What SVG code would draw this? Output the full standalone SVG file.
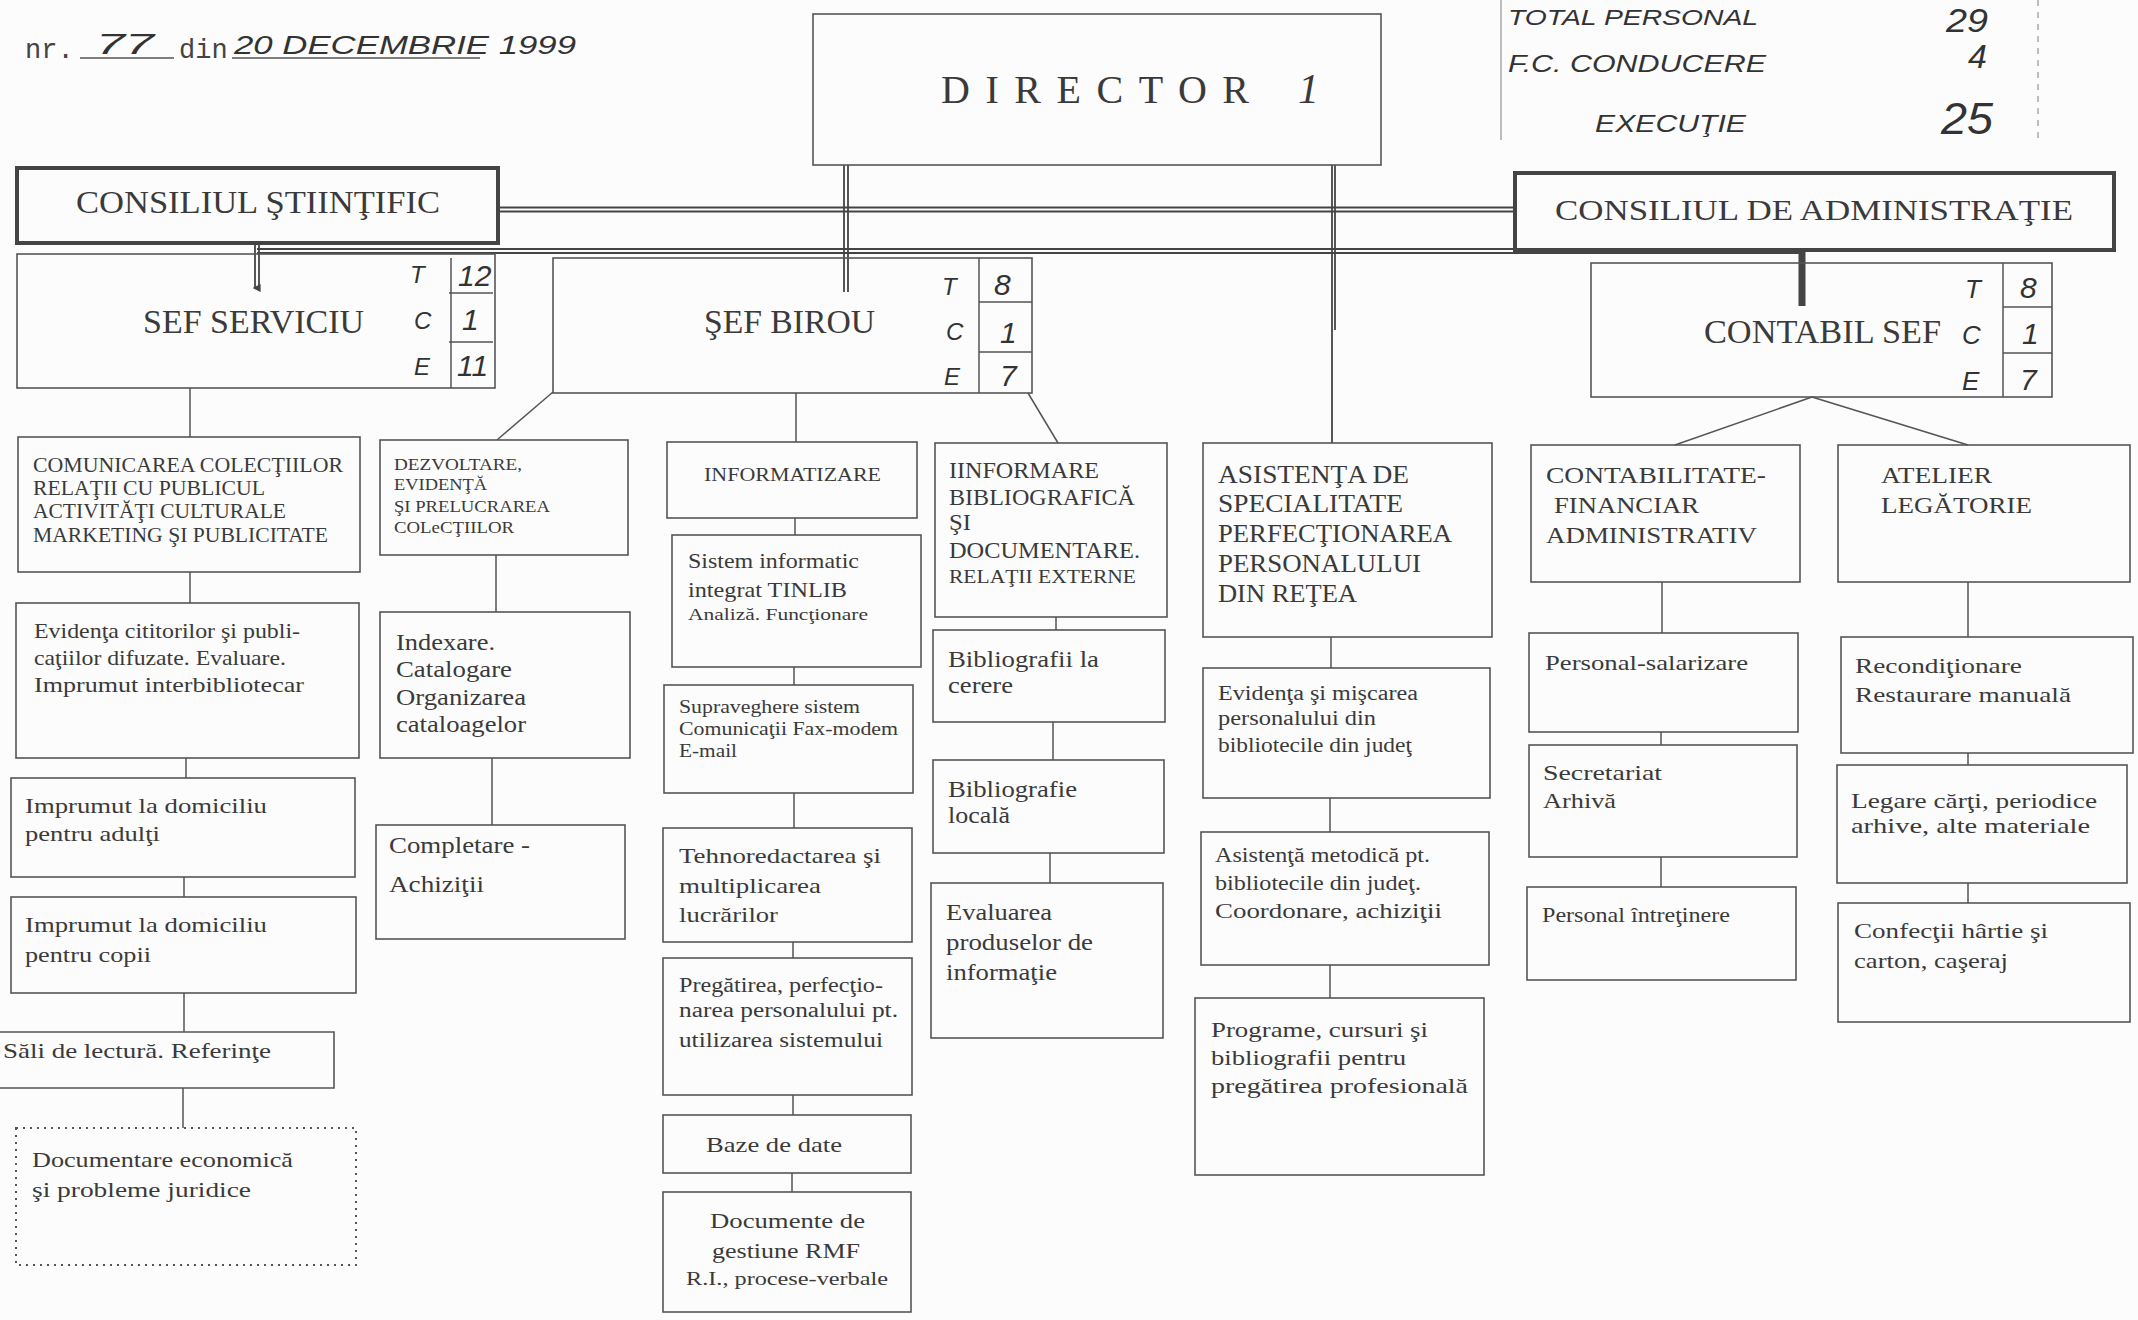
<svg xmlns="http://www.w3.org/2000/svg" width="2138" height="1320" viewBox="0 0 2138 1320">
<defs>
<style>
.bg{fill:#fcfcfc}
.box{fill:none;stroke:#555;stroke-width:1.6}
.bold{fill:none;stroke:#444;stroke-width:4}
.dot{fill:none;stroke:#555;stroke-width:2;stroke-dasharray:2 5}
.ln{stroke:#555;stroke-width:1.5;fill:none}
.dbl{stroke:#444;stroke-width:1.8;fill:none}
.t{font-family:"Liberation Serif","Times New Roman",serif;fill:#3a3a3a}
.m{font-family:"Liberation Mono","Courier New",monospace;fill:#444}
.hw{font-family:"Liberation Sans",Arial,sans-serif;font-style:italic;fill:#333}
</style>
<marker id="tip" viewBox="0 0 10 10" refX="5" refY="2" markerWidth="8" markerHeight="8" orient="auto-start-reverse" markerUnits="userSpaceOnUse">
<path d="M0,0 L10,0 L5,10 z" fill="#444"/>
</marker>
</defs>
<rect class="bg" x="0" y="0" width="2138" height="1320"/>

<g id="header">
<text class="m" x="25" y="58" font-size="27">nr.</text>
<text class="hw" x="96" y="54" font-size="30" textLength="58" lengthAdjust="spacingAndGlyphs">77</text>
<line class="ln" x1="80" y1="58" x2="174" y2="58"/>
<text class="m" x="179" y="58" font-size="27">din</text>
<text class="hw" x="234" y="54" font-size="26" textLength="342" lengthAdjust="spacingAndGlyphs">20 DECEMBRIE 1999</text>
<line class="ln" x1="232" y1="58" x2="480" y2="58"/>
</g>

<g id="totals">
<line class="ln" x1="1501" y1="0" x2="1501" y2="140" stroke-opacity="0.5"/>
<line class="ln" x1="2038" y1="0" x2="2038" y2="140" stroke-dasharray="6 6" stroke-opacity="0.5"/>
<text class="hw" x="1508" y="25" font-size="22" textLength="250" lengthAdjust="spacingAndGlyphs">TOTAL PERSONAL</text>
<text class="hw" x="1946" y="32" font-size="34" textLength="42" lengthAdjust="spacingAndGlyphs">29</text>
<text class="hw" x="1508" y="72" font-size="24" textLength="258" lengthAdjust="spacingAndGlyphs">F.C. CONDUCERE</text>
<text class="hw" x="1968" y="68" font-size="34">4</text>
<text class="hw" x="1595" y="132" font-size="24" textLength="151" lengthAdjust="spacingAndGlyphs">EXECUŢIE</text>
<text class="hw" x="1941" y="134" font-size="44" textLength="52" lengthAdjust="spacingAndGlyphs">25</text>
</g>

<g id="connectors">
<line class="dbl" x1="498" y1="207.5" x2="1515" y2="207.5"/>
<line class="dbl" x1="498" y1="211.5" x2="1515" y2="211.5"/>
<line class="dbl" x1="257" y1="249" x2="1800" y2="249"/>
<line class="dbl" x1="257" y1="253" x2="1800" y2="253"/>
<line class="dbl" x1="255" y1="243" x2="255" y2="288"/>
<line class="dbl" x1="259" y1="243" x2="259" y2="288" marker-end="url(#tip)"/>
<line class="dbl" x1="844" y1="165" x2="844" y2="292"/>
<line class="dbl" x1="848" y1="165" x2="848" y2="292"/>
<line x1="1802" y1="251" x2="1802" y2="306" stroke="#444" stroke-width="7"/>
<line class="dbl" x1="1332" y1="165" x2="1332" y2="443"/>
<line class="dbl" x1="1335" y1="165" x2="1335" y2="330"/>
<line class="ln" x1="190" y1="388" x2="190" y2="437"/>
<line class="ln" x1="553" y1="392" x2="497" y2="440"/>
<line class="ln" x1="796" y1="393" x2="796" y2="442"/>
<line class="ln" x1="1028" y1="393" x2="1058" y2="443"/>
<line class="ln" x1="1812" y1="397" x2="1675" y2="445"/>
<line class="ln" x1="1812" y1="397" x2="1968" y2="445"/>
<line class="ln" x1="190" y1="572" x2="190" y2="603"/>
<line class="ln" x1="186" y1="758" x2="186" y2="778"/>
<line class="ln" x1="184" y1="877" x2="184" y2="897"/>
<line class="ln" x1="184" y1="993" x2="184" y2="1032"/>
<line class="ln" x1="183" y1="1088" x2="183" y2="1128"/>
<line class="ln" x1="496" y1="555" x2="496" y2="612"/>
<line class="ln" x1="492" y1="758" x2="492" y2="825"/>
<line class="ln" x1="795" y1="518" x2="795" y2="535"/>
<line class="ln" x1="794" y1="667" x2="794" y2="685"/>
<line class="ln" x1="794" y1="793" x2="794" y2="828"/>
<line class="ln" x1="793" y1="942" x2="793" y2="958"/>
<line class="ln" x1="793" y1="1095" x2="793" y2="1115"/>
<line class="ln" x1="792" y1="1173" x2="792" y2="1192"/>
<line class="ln" x1="1056" y1="617" x2="1056" y2="630"/>
<line class="ln" x1="1053" y1="722" x2="1053" y2="760"/>
<line class="ln" x1="1050" y1="853" x2="1050" y2="883"/>
<line class="ln" x1="1331" y1="637" x2="1331" y2="668"/>
<line class="ln" x1="1330" y1="798" x2="1330" y2="832"/>
<line class="ln" x1="1330" y1="965" x2="1330" y2="998"/>
<line class="ln" x1="1662" y1="582" x2="1662" y2="633"/>
<line class="ln" x1="1661" y1="732" x2="1661" y2="745"/>
<line class="ln" x1="1661" y1="857" x2="1661" y2="887"/>
<line class="ln" x1="1968" y1="582" x2="1968" y2="637"/>
<line class="ln" x1="1968" y1="753" x2="1968" y2="765"/>
<line class="ln" x1="1968" y1="883" x2="1968" y2="903"/>
</g>

<g id="director">
<rect class="box" x="813" y="14" width="568" height="151" stroke-width="2.2"/>
<text class="t" x="941" y="103" font-size="40" textLength="308">DIRECTOR</text>
<text class="t" x="1298" y="103" font-size="42" font-style="italic">1</text>
</g>

<g id="consiliul-stiintific">
<rect class="bold" x="17" y="168" width="481" height="75"/>
<text class="t" x="76" y="213" font-size="32" textLength="364" lengthAdjust="spacingAndGlyphs">CONSILIUL ŞTIINŢIFIC</text>
</g>

<g id="consiliul-administratie">
<rect class="bold" x="1515" y="173" width="599" height="77"/>
<text class="t" x="1555" y="220" font-size="30" textLength="518" lengthAdjust="spacingAndGlyphs">CONSILIUL  DE ADMINISTRAŢIE</text>
</g>

<g id="sef-serviciu">
<rect class="box" x="17" y="254" width="478" height="134"/>
<line class="ln" x1="451" y1="258" x2="451" y2="388"/>
<line class="ln" x1="449" y1="293" x2="493" y2="293"/>
<line class="ln" x1="449" y1="342" x2="493" y2="342"/>
<text class="t" x="143" y="333" font-size="33" textLength="221" lengthAdjust="spacingAndGlyphs">SEF SERVICIU</text>
<text class="hw" x="410" y="283" font-size="24">T</text>
<text class="hw" x="414" y="329" font-size="24">C</text>
<text class="hw" x="414" y="375" font-size="24">E</text>
<text class="hw" x="458" y="286" font-size="30">12</text>
<text class="hw" x="462" y="330" font-size="30">1</text>
<text class="hw" x="457" y="376" font-size="30">11</text>
</g>

<g id="sef-birou">
<rect class="box" x="553" y="258" width="479" height="135"/>
<line class="ln" x1="979" y1="258" x2="979" y2="393"/>
<line class="ln" x1="979" y1="302" x2="1032" y2="302"/>
<line class="ln" x1="979" y1="352" x2="1032" y2="352"/>
<text class="t" x="704" y="333" font-size="33" textLength="171" lengthAdjust="spacingAndGlyphs">ŞEF BIROU</text>
<text class="hw" x="942" y="295" font-size="24">T</text>
<text class="hw" x="946" y="340" font-size="24">C</text>
<text class="hw" x="944" y="385" font-size="24">E</text>
<text class="hw" x="994" y="295" font-size="30">8</text>
<text class="hw" x="1000" y="343" font-size="30">1</text>
<text class="hw" x="1000" y="386" font-size="30">7</text>
</g>

<g id="contabil-sef">
<rect class="box" x="1591" y="263" width="461" height="134"/>
<line class="ln" x1="2003" y1="263" x2="2003" y2="397"/>
<line class="ln" x1="2003" y1="307" x2="2052" y2="307"/>
<line class="ln" x1="2003" y1="353" x2="2052" y2="353"/>
<text class="t" x="1704" y="343" font-size="33" textLength="237" lengthAdjust="spacingAndGlyphs">CONTABIL SEF</text>
<text class="hw" x="1965" y="298" font-size="26">T</text>
<text class="hw" x="1962" y="344" font-size="26">C</text>
<text class="hw" x="1962" y="390" font-size="26">E</text>
<text class="hw" x="2020" y="298" font-size="30">8</text>
<text class="hw" x="2022" y="344" font-size="30">1</text>
<text class="hw" x="2020" y="390" font-size="30">7</text>
</g>

<g id="comunicarea">
<rect class="box" x="18" y="437" width="342" height="135"/>
<text class="t" font-size="20" x="33" y="472" textLength="310" lengthAdjust="spacingAndGlyphs">COMUNICAREA  COLECŢIILOR</text>
<text class="t" font-size="20" x="33" y="495" textLength="232" lengthAdjust="spacingAndGlyphs">RELAŢII CU  PUBLICUL</text>
<text class="t" font-size="20" x="33" y="518" textLength="253" lengthAdjust="spacingAndGlyphs">ACTIVITĂŢI CULTURALE</text>
<text class="t" font-size="20" x="33" y="542" textLength="295" lengthAdjust="spacingAndGlyphs">MARKETING ŞI PUBLICITATE</text>
</g>

<g id="dezvoltare">
<rect class="box" x="380" y="440" width="248" height="115"/>
<text class="t" font-size="17" x="394" y="470" textLength="128" lengthAdjust="spacingAndGlyphs">DEZVOLTARE,</text>
<text class="t" font-size="17" x="394" y="490" textLength="93" lengthAdjust="spacingAndGlyphs">EVIDENŢĂ</text>
<text class="t" font-size="17" x="394" y="512" textLength="156" lengthAdjust="spacingAndGlyphs">ŞI PRELUCRAREA</text>
<text class="t" font-size="17" x="394" y="533" textLength="120" lengthAdjust="spacingAndGlyphs">COLeCŢIILOR</text>
</g>

<g id="informatizare">
<rect class="box" x="667" y="442" width="250" height="76"/>
<text class="t" font-size="19" x="704" y="481" textLength="177" lengthAdjust="spacingAndGlyphs">INFORMATIZARE</text>
</g>

<g id="informare">
<rect class="box" x="935" y="443" width="232" height="174"/>
<text class="t" font-size="23" x="949" y="478" textLength="150" lengthAdjust="spacingAndGlyphs">IINFORMARE</text>
<text class="t" font-size="23" x="949" y="505" textLength="186" lengthAdjust="spacingAndGlyphs">BIBLIOGRAFICĂ</text>
<text class="t" font-size="23" x="949" y="530" textLength="22" lengthAdjust="spacingAndGlyphs">ŞI</text>
<text class="t" font-size="23" x="949" y="558" textLength="191" lengthAdjust="spacingAndGlyphs">DOCUMENTARE.</text>
<text class="t" font-size="18" x="949" y="583" textLength="187" lengthAdjust="spacingAndGlyphs">RELAŢII EXTERNE</text>
</g>

<g id="asistenta">
<rect class="box" x="1203" y="443" width="289" height="194"/>
<text class="t" font-size="25" x="1218" y="483" textLength="191" lengthAdjust="spacingAndGlyphs">ASISTENŢA DE</text>
<text class="t" font-size="25" x="1218" y="512" textLength="185" lengthAdjust="spacingAndGlyphs">SPECIALITATE</text>
<text class="t" font-size="25" x="1218" y="542" textLength="234" lengthAdjust="spacingAndGlyphs">PERFECŢIONAREA</text>
<text class="t" font-size="25" x="1218" y="572" textLength="203" lengthAdjust="spacingAndGlyphs">PERSONALULUI</text>
<text class="t" font-size="25" x="1218" y="602" textLength="139" lengthAdjust="spacingAndGlyphs">DIN REŢEA</text>
</g>

<g id="contabilitate">
<rect class="box" x="1531" y="445" width="269" height="137"/>
<text class="t" font-size="24" x="1546" y="483" textLength="220" lengthAdjust="spacingAndGlyphs">CONTABILITATE-</text>
<text class="t" font-size="24" x="1554" y="513" textLength="145" lengthAdjust="spacingAndGlyphs">FINANCIAR</text>
<text class="t" font-size="24" x="1546" y="543" textLength="211" lengthAdjust="spacingAndGlyphs">ADMINISTRATIV</text>
</g>

<g id="atelier">
<rect class="box" x="1838" y="445" width="292" height="137"/>
<text class="t" font-size="24" x="1881" y="483" textLength="111" lengthAdjust="spacingAndGlyphs">ATELIER</text>
<text class="t" font-size="24" x="1881" y="513" textLength="151" lengthAdjust="spacingAndGlyphs">LEGĂTORIE</text>
</g>

<g id="evidenta-cititori">
<rect class="box" x="16" y="603" width="343" height="155"/>
<text class="t" font-size="21" x="34" y="638" textLength="266" lengthAdjust="spacingAndGlyphs">Evidenţa cititorilor şi publi-</text>
<text class="t" font-size="21" x="34" y="665" textLength="252" lengthAdjust="spacingAndGlyphs">caţiilor difuzate. Evaluare.</text>
<text class="t" font-size="21" x="34" y="692" textLength="270" lengthAdjust="spacingAndGlyphs">Imprumut interbibliotecar</text>
</g>

<g id="imprumut-adulti">
<rect class="box" x="11" y="778" width="344" height="99"/>
<text class="t" font-size="22" x="25" y="813" textLength="242" lengthAdjust="spacingAndGlyphs">Imprumut la domiciliu</text>
<text class="t" font-size="22" x="25" y="841" textLength="135" lengthAdjust="spacingAndGlyphs">pentru adulţi</text>
</g>

<g id="imprumut-copii">
<rect class="box" x="11" y="897" width="345" height="96"/>
<text class="t" font-size="22" x="25" y="932" textLength="242" lengthAdjust="spacingAndGlyphs">Imprumut la domiciliu</text>
<text class="t" font-size="22" x="25" y="962" textLength="126" lengthAdjust="spacingAndGlyphs">pentru copii</text>
</g>

<g id="sali-lectura">
<path class="box" d="M0,1032 H334 V1088 H0" stroke-width="2.4"/>
<text class="t" font-size="22" x="3" y="1058" textLength="268" lengthAdjust="spacingAndGlyphs">Săli de lectură.  Referinţe</text>
</g>

<g id="documentare-economica">
<rect class="dot" x="16" y="1128" width="340" height="137"/>
<text class="t" font-size="21" x="32" y="1167" textLength="261" lengthAdjust="spacingAndGlyphs">Documentare economică</text>
<text class="t" font-size="21" x="32" y="1197" textLength="219" lengthAdjust="spacingAndGlyphs">şi probleme  juridice</text>
</g>

<g id="indexare">
<rect class="box" x="380" y="612" width="250" height="146"/>
<text class="t" font-size="24" x="396" y="650" textLength="99" lengthAdjust="spacingAndGlyphs">Indexare.</text>
<text class="t" font-size="24" x="396" y="677" textLength="116" lengthAdjust="spacingAndGlyphs">Catalogare</text>
<text class="t" font-size="24" x="396" y="705" textLength="130" lengthAdjust="spacingAndGlyphs">Organizarea</text>
<text class="t" font-size="24" x="396" y="732" textLength="130" lengthAdjust="spacingAndGlyphs">cataloagelor</text>
</g>

<g id="completare">
<rect class="box" x="376" y="825" width="249" height="114"/>
<text class="t" font-size="23" x="389" y="853" textLength="141" lengthAdjust="spacingAndGlyphs">Completare -</text>
<text class="t" font-size="23" x="389" y="892" textLength="95" lengthAdjust="spacingAndGlyphs">Achiziţii</text>
</g>

<g id="sistem-informatic">
<rect class="box" x="672" y="535" width="249" height="132"/>
<text class="t" font-size="22" x="688" y="568" textLength="171" lengthAdjust="spacingAndGlyphs">Sistem informatic</text>
<text class="t" font-size="22" x="688" y="597" textLength="159" lengthAdjust="spacingAndGlyphs">integrat TINLIB</text>
<text class="t" font-size="17" x="688" y="620" textLength="180" lengthAdjust="spacingAndGlyphs">Analiză. Funcţionare</text>
</g>

<g id="supraveghere">
<rect class="box" x="664" y="685" width="249" height="108"/>
<text class="t" font-size="18" x="679" y="713" textLength="181" lengthAdjust="spacingAndGlyphs">Supraveghere sistem</text>
<text class="t" font-size="18" x="679" y="735" textLength="219" lengthAdjust="spacingAndGlyphs">Comunicaţii Fax-modem</text>
<text class="t" font-size="18" x="679" y="757" textLength="58" lengthAdjust="spacingAndGlyphs">E-mail</text>
</g>

<g id="tehnoredactare">
<rect class="box" x="663" y="828" width="249" height="114"/>
<text class="t" font-size="22" x="679" y="863" textLength="202" lengthAdjust="spacingAndGlyphs">Tehnoredactarea şi</text>
<text class="t" font-size="22" x="679" y="893" textLength="142" lengthAdjust="spacingAndGlyphs">multiplicarea</text>
<text class="t" font-size="22" x="679" y="922" textLength="99" lengthAdjust="spacingAndGlyphs">lucrărilor</text>
</g>

<g id="pregatirea">
<rect class="box" x="663" y="958" width="249" height="137"/>
<text class="t" font-size="20" x="679" y="992" textLength="204" lengthAdjust="spacingAndGlyphs">Pregătirea, perfecţio-</text>
<text class="t" font-size="20" x="679" y="1017" textLength="219" lengthAdjust="spacingAndGlyphs">narea personalului  pt.</text>
<text class="t" font-size="20" x="679" y="1047" textLength="204" lengthAdjust="spacingAndGlyphs">utilizarea  sistemului</text>
</g>

<g id="baze-date">
<rect class="box" x="663" y="1115" width="248" height="58"/>
<text class="t" font-size="22" x="706" y="1152" textLength="136" lengthAdjust="spacingAndGlyphs">Baze de date</text>
</g>

<g id="documente-gestiune">
<rect class="box" x="663" y="1192" width="248" height="120"/>
<text class="t" font-size="22" x="710" y="1228" textLength="155" lengthAdjust="spacingAndGlyphs">Documente de</text>
<text class="t" font-size="22" x="712" y="1258" textLength="148" lengthAdjust="spacingAndGlyphs">gestiune RMF</text>
<text class="t" font-size="19" x="686" y="1285" textLength="202" lengthAdjust="spacingAndGlyphs">R.I., procese-verbale</text>
</g>

<g id="bibliografii-cerere">
<rect class="box" x="933" y="630" width="232" height="92"/>
<text class="t" font-size="23" x="948" y="667" textLength="151" lengthAdjust="spacingAndGlyphs">Bibliografii la</text>
<text class="t" font-size="23" x="948" y="693" textLength="65" lengthAdjust="spacingAndGlyphs">cerere</text>
</g>

<g id="bibliografie-locala">
<rect class="box" x="933" y="760" width="231" height="93"/>
<text class="t" font-size="23" x="948" y="797" textLength="129" lengthAdjust="spacingAndGlyphs">Bibliografie</text>
<text class="t" font-size="23" x="948" y="823" textLength="62" lengthAdjust="spacingAndGlyphs">locală</text>
</g>

<g id="evaluarea">
<rect class="box" x="931" y="883" width="232" height="155"/>
<text class="t" font-size="23" x="946" y="920" textLength="106" lengthAdjust="spacingAndGlyphs">Evaluarea</text>
<text class="t" font-size="23" x="946" y="950" textLength="147" lengthAdjust="spacingAndGlyphs">produselor de</text>
<text class="t" font-size="23" x="946" y="980" textLength="111" lengthAdjust="spacingAndGlyphs">informaţie</text>
</g>

<g id="evidenta-personal">
<rect class="box" x="1203" y="668" width="287" height="130"/>
<text class="t" font-size="20" x="1218" y="700" textLength="200" lengthAdjust="spacingAndGlyphs">Evidenţa şi mişcarea</text>
<text class="t" font-size="20" x="1218" y="725" textLength="158" lengthAdjust="spacingAndGlyphs">personalului din</text>
<text class="t" font-size="20" x="1218" y="752" textLength="194" lengthAdjust="spacingAndGlyphs">bibliotecile din judeţ</text>
</g>

<g id="asistenta-metodica">
<rect class="box" x="1201" y="832" width="288" height="133"/>
<text class="t" font-size="20" x="1215" y="862" textLength="215" lengthAdjust="spacingAndGlyphs">Asistenţă metodică pt.</text>
<text class="t" font-size="20" x="1215" y="890" textLength="206" lengthAdjust="spacingAndGlyphs">bibliotecile din judeţ.</text>
<text class="t" font-size="20" x="1215" y="918" textLength="227" lengthAdjust="spacingAndGlyphs">Coordonare, achiziţii</text>
</g>

<g id="programe">
<rect class="box" x="1195" y="998" width="289" height="177"/>
<text class="t" font-size="22" x="1211" y="1037" textLength="217" lengthAdjust="spacingAndGlyphs">Programe, cursuri şi</text>
<text class="t" font-size="22" x="1211" y="1065" textLength="195" lengthAdjust="spacingAndGlyphs">bibliografii pentru</text>
<text class="t" font-size="22" x="1211" y="1093" textLength="257" lengthAdjust="spacingAndGlyphs">pregătirea  profesională</text>
</g>

<g id="personal-salarizare">
<rect class="box" x="1529" y="633" width="269" height="99"/>
<text class="t" font-size="22" x="1545" y="670" textLength="203" lengthAdjust="spacingAndGlyphs">Personal-salarizare</text>
</g>

<g id="secretariat">
<rect class="box" x="1529" y="745" width="268" height="112"/>
<text class="t" font-size="22" x="1543" y="780" textLength="119" lengthAdjust="spacingAndGlyphs">Secretariat</text>
<text class="t" font-size="22" x="1543" y="808" textLength="73" lengthAdjust="spacingAndGlyphs">Arhivă</text>
</g>

<g id="personal-intretinere">
<rect class="box" x="1527" y="887" width="269" height="93"/>
<text class="t" font-size="21" x="1542" y="922" textLength="188" lengthAdjust="spacingAndGlyphs">Personal întreţinere</text>
</g>

<g id="reconditionare">
<rect class="box" x="1841" y="637" width="292" height="116"/>
<text class="t" font-size="22" x="1855" y="673" textLength="167" lengthAdjust="spacingAndGlyphs">Recondiţionare</text>
<text class="t" font-size="22" x="1855" y="702" textLength="216" lengthAdjust="spacingAndGlyphs">Restaurare manuală</text>
</g>

<g id="legare">
<rect class="box" x="1837" y="765" width="290" height="118"/>
<text class="t" font-size="22" x="1851" y="808" textLength="246" lengthAdjust="spacingAndGlyphs">Legare cărţi, periodice</text>
<text class="t" font-size="22" x="1851" y="833" textLength="239" lengthAdjust="spacingAndGlyphs">arhive, alte  materiale</text>
</g>

<g id="confectii">
<rect class="box" x="1838" y="903" width="292" height="119"/>
<text class="t" font-size="22" x="1854" y="938" textLength="194" lengthAdjust="spacingAndGlyphs">Confecţii hârtie şi</text>
<text class="t" font-size="22" x="1854" y="968" textLength="154" lengthAdjust="spacingAndGlyphs">carton, caşeraj</text>
</g>
</svg>
